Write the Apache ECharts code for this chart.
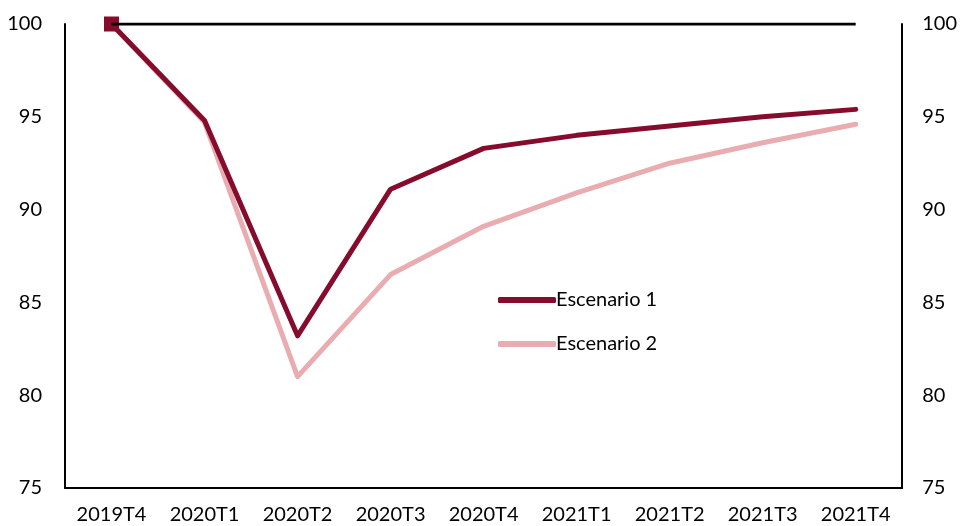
<!DOCTYPE html>
<html>
<head>
<meta charset="utf-8">
<script src="https://cdn.jsdelivr.net/npm/echarts@6/dist/echarts.min.js"></script>
<style>
  html, body { margin: 0; padding: 0; background: #fff; }
  #chart { width: 960px; height: 526px; }
</style>
</head>
<body>
<div id="chart"></div>
<script>
var categories = ['2019T4', '2020T1', '2020T2', '2020T3', '2020T4', '2021T1', '2021T2', '2021T3', '2021T4'];
var escenario1 = [100, 94.8, 83.2, 91.1, 93.3, 94.0, 94.5, 95.0, 95.4];
var escenario2 = [100, 94.7, 81.0, 86.5, 89.1, 90.9, 92.5, 93.6, 94.6];
var base = [100, 100, 100, 100, 100, 100, 100, 100, 100];
var yTicks = [75, 80, 85, 90, 95, 100];

var dark = '#850c2c';
var pink = '#e9adb1';
var font = 'Lato, "DejaVu Sans", sans-serif';

var mChart = echarts.init(document.getElementById('chart'));

function yAxis(pos, margin) {
  return {
    type: 'value',
    position: pos,
    min: yTicks[0],
    max: yTicks[yTicks.length - 1],
    interval: 5,
    splitLine: { show: false },
    axisTick: { show: false },
    axisLine: { show: true, lineStyle: { color: '#000', width: 2 } },
    axisLabel: { color: '#000', fontSize: 20, fontFamily: font, margin: margin }
  };
}

mChart.setOption({
  animation: false,
  grid: { left: 65, right: 57, top: 24, bottom: 38, containLabel: false },
  legend: {
    orient: 'vertical',
    left: 493,
    top: 285,
    itemGap: 24,
    itemWidth: 58,
    itemHeight: 6,
    icon: 'roundRect',
    data: ['Escenario 1', 'Escenario 2'],
    textStyle: { color: '#000', fontSize: 20, fontFamily: font, padding: [0, 0, 0, -5] }
  },
  xAxis: {
    type: 'category',
    data: categories,
    boundaryGap: true,
    axisTick: { show: false },
    axisLine: { show: true, lineStyle: { color: '#000', width: 2 } },
    axisLabel: { color: '#000', fontSize: 20, fontFamily: font, margin: 17, interval: 0 }
  },
  yAxis: [yAxis('left', 23), yAxis('right', 20)],
  series: [
    {
      name: 'Escenario 2',
      type: 'line',
      data: escenario2,
      symbol: 'none',
      lineStyle: { color: pink, width: 5, cap: 'round', join: 'round' },
      itemStyle: { color: pink }
    },
    {
      name: 'Escenario 1',
      type: 'line',
      data: escenario1.map(function (v, i) {
        return i === 0 ? { value: v, symbol: 'rect', symbolSize: 15 } : v;
      }),
      symbol: 'none',
      lineStyle: { color: dark, width: 5, cap: 'round', join: 'round' },
      itemStyle: { color: dark }
    },
    {
      name: 'Base',
      type: 'line',
      data: base,
      symbol: 'none',
      silent: true,
      lineStyle: { color: '#000', width: 3 },
      z: 5
    }
  ]
});
</script>
</body>
</html>
